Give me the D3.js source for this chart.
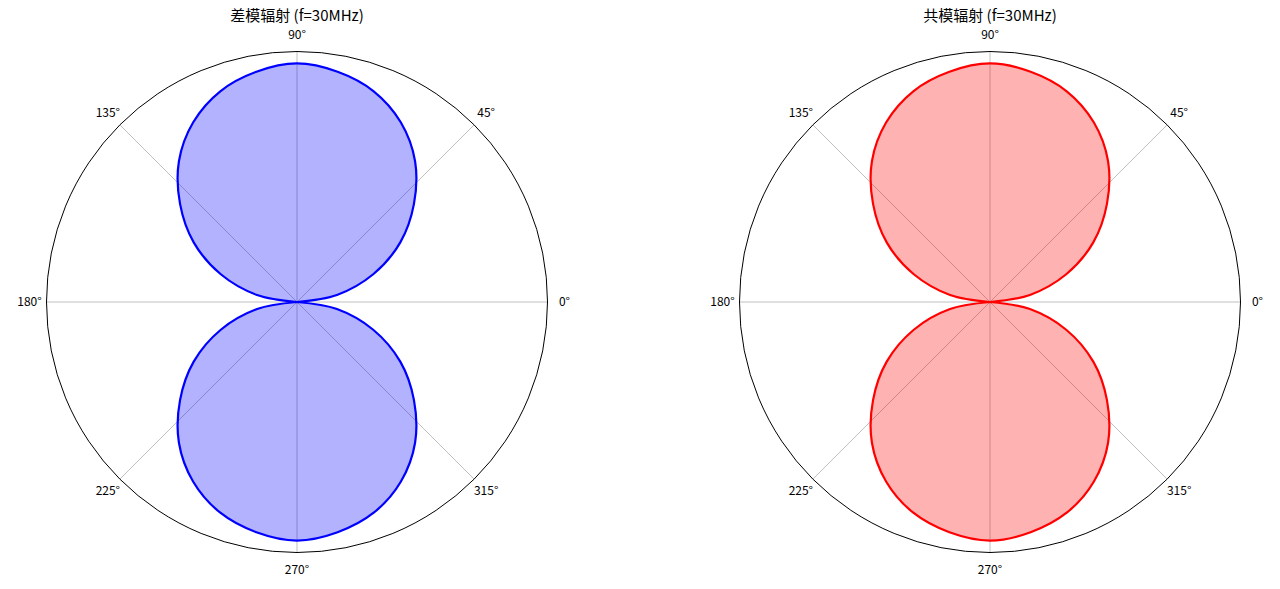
<!DOCTYPE html>
<html><head><meta charset="utf-8">
<script src="https://cdn.jsdelivr.net/npm/d3@7"></script>
<style>body{margin:0;background:#fff}text{font-family:"Noto Sans CJK SC","DejaVu Sans",sans-serif}</style>
</head><body><svg id="c" width="1280" height="589"></svg>
<script>
// angles in degrees, radiation values
var angles = [0,10,20,30,40,50,60,70,80,90,100,110,120,130,140,150,160,170,
              180,190,200,210,220,230,240,250,260,270,280,290,300,310,320,330,340,350,360];
var dmValues = [0,0.17,0.34,0.5,0.64,0.77,0.87,0.94,0.98,1,0.98,0.94,0.87,0.77,0.64,0.5,0.34,0.17,
                0,0.17,0.34,0.5,0.64,0.77,0.87,0.94,0.98,1,0.98,0.94,0.87,0.77,0.64,0.5,0.34,0.17,0];
var cmValues = [0,0.17,0.34,0.5,0.64,0.77,0.87,0.94,0.98,1,0.98,0.94,0.87,0.77,0.64,0.5,0.34,0.17,
                0,0.17,0.34,0.5,0.64,0.77,0.87,0.94,0.98,1,0.98,0.94,0.87,0.77,0.64,0.5,0.34,0.17,0];
var tickAngles = [0,45,90,135,180,225,270,315];
var titles = ["差模辐射 (f=30MHz)", "共模辐射 (f=30MHz)"];

var svg = d3.select("#c");
var R = 250.5;
var r = d3.scaleLinear().domain([0, 1.05]).range([0, R]);
var toRad = function(d) { return (90 - d) * Math.PI / 180; };

function polar(cx, cy, values, stroke, fill, title) {
  var g = svg.append("g").attr("transform", "translate(" + cx + "," + cy + ")");

  g.selectAll(".grid")
      .data(tickAngles)
    .enter().append("line")
      .attr("x2", function(d) { return R * Math.cos(d * Math.PI / 180); })
      .attr("y2", function(d) { return -R * Math.sin(d * Math.PI / 180); })
      .attr("stroke", "#b0b0b0").attr("stroke-width", 0.8);

  var pts = angles.map(function(a, i) { return [toRad(a), r(values[i])]; });
  // split into two lobes at the nulls so the curve keeps its cusp
  var lobes = [pts.slice(0, 19), pts.slice(18)];

  var line = d3.lineRadial()
      .angle(function(d) { return d[0]; })
      .radius(function(d) { return d[1]; })
      .curve(d3.curveCatmullRom);

  lobes.forEach(function(lobe) {
    g.append("path").attr("d", line(lobe) + "Z")
        .attr("fill", fill).attr("fill-opacity", 0.3).attr("stroke", "none");
  });
  lobes.forEach(function(lobe) {
    g.append("path").attr("d", line(lobe))
        .attr("fill", "none").attr("stroke", stroke).attr("stroke-width", 2.2);
  });

  g.append("circle").attr("r", R).attr("fill", "none").attr("stroke", "#000").attr("stroke-width", 1);

  g.selectAll(".lab")
      .data(tickAngles)
    .enter().append("text")
      .attr("x", function(d) { return (R + 17) * Math.cos(d * Math.PI / 180); })
      .attr("y", function(d) { return -(R + 17) * Math.sin(d * Math.PI / 180); })
      .attr("dy", ".35em")
      .attr("text-anchor", "middle")
      .attr("font-size", 12)
      .text(function(d) { return d + "°"; });

  svg.append("text")
      .attr("x", cx).attr("y", 21)
      .attr("text-anchor", "middle")
      .attr("font-size", 15)
      .text(title);
}

polar(297, 302, dmValues, "blue", "blue", titles[0]);
polar(990, 302, cmValues, "red", "red", titles[1]);
</script></body></html>
